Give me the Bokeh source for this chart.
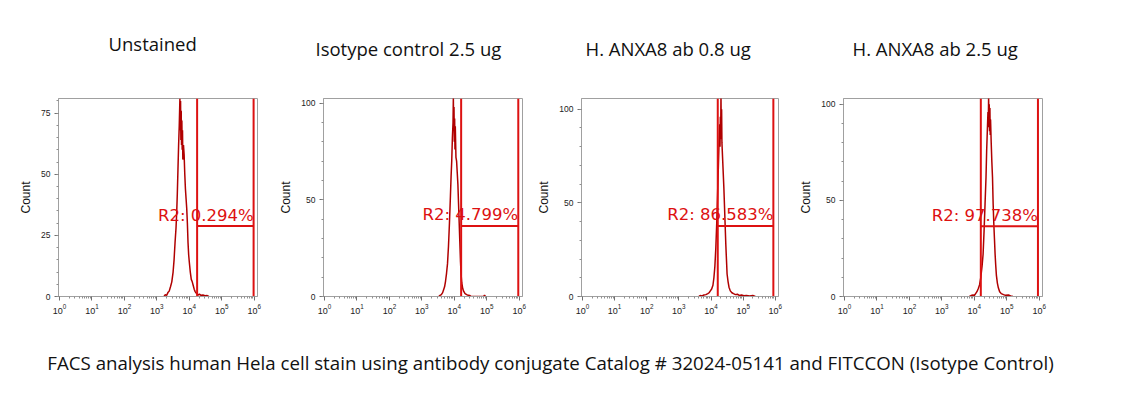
from bokeh.plotting import figure
from bokeh.layouts import row, column
from bokeh.models import Range1d, FixedTicker
from bokeh.core.properties import value
from bokeh.embed import file_html
from bokeh.resources import INLINE

# ---------------- data ----------------
titles = ["Unstained", "Isotype control 2.5 ug", "H. ANXA8 ab 0.8 ug", "H. ANXA8 ab 2.5 ug"]
r2_labels = ["R2: 0.294%", "R2: 4.799%", "R2: 86.583%", "R2: 97.738%"]
caption = ("FACS analysis human Hela cell stain using antibody conjugate Catalog # 32024-05141 "
           "and FITCCON (Isotype Control)")

# gate positions (log10 fluorescence) and gate bar height (count)
gate_left_log = [4.24, 4.21, 4.21, 4.20]
gate_right_log = [5.98, 5.97, 5.94, 5.96]
gate_y = [28.8, 36.5, 37.7, 36.6]

# y axis
y_top = [81, 102.4, 105.7, 103]
y_major = [[0, 25, 50, 75], [0, 50, 100], [0, 50, 100], [0, 50, 100]]
y_minor_step = [5, 10, 10, 10]

# histograms: log10 fluorescence, count
h1_log = [3.22, 3.26, 3.30, 3.34, 3.38, 3.42, 3.46, 3.50, 3.53, 3.56, 3.59, 3.61, 3.63, 3.65,
          3.67, 3.69, 3.71, 3.72, 3.73, 3.74, 3.75, 3.76, 3.77, 3.78, 3.79, 3.80, 3.82, 3.84,
          3.86, 3.88, 3.90, 3.92, 3.94, 3.96, 3.98, 4.00, 4.03, 4.06, 4.09, 4.12, 4.15, 4.18,
          4.21, 4.24, 4.27, 4.31, 4.36, 4.42, 4.48, 4.55, 4.60]
h1_cnt = [0, 0.8, 0.4, 1.6, 2.2, 4, 6, 10, 15, 22, 28, 34, 42, 52,
          62, 70, 81, 68, 80, 64, 76, 62, 72, 60, 68, 56, 62, 58,
          50, 44, 40, 36, 30, 22, 17, 14, 10, 7, 6, 4.5, 3, 2,
          1.4, 1, 0.6, 1, 0.5, 0.6, 0.3, 0.4, 0]

h2_log = [3.52, 3.56, 3.60, 3.64, 3.67, 3.70, 3.73, 3.76, 3.79, 3.82, 3.85, 3.88, 3.90, 3.92,
          3.94, 3.96, 3.97, 3.98, 3.99, 4.00, 4.01, 4.02, 4.03, 4.05, 4.07, 4.09, 4.11, 4.13,
          4.15, 4.17, 4.19, 4.21, 4.23, 4.26, 4.29, 4.33, 4.38, 4.43, 4.48, 4.52, 4.90, 4.93, 4.96]
h2_cnt = [0, 0.6, 1, 2, 3.5, 5, 8, 12, 17, 26, 38, 52, 62, 70,
          82, 90, 103, 86, 98, 80, 92, 76, 88, 72, 70, 64, 58, 48,
          38, 28, 18, 11, 7, 4, 2.6, 1.5, 1, 0.6, 0.5, 0, 0, 0.6, 0]

h3_log = [3.62, 3.66, 3.72, 3.78, 3.84, 3.90, 3.94, 3.98, 4.02, 4.06, 4.09, 4.12, 4.15, 4.18,
          4.21, 4.23, 4.25, 4.27, 4.28, 4.29, 4.30, 4.31, 4.32, 4.33, 4.34, 4.36, 4.38, 4.40,
          4.42, 4.44, 4.46, 4.48, 4.50, 4.53, 4.56, 4.60, 4.65, 4.70, 4.76, 4.82, 4.88, 4.95,
          5.02, 5.10, 5.20, 5.30, 5.38]
h3_cnt = [0, 0.5, 0.3, 0.8, 1, 1.5, 2, 3, 4, 6, 10, 16, 26, 40,
          58, 70, 82, 92, 80, 96, 84, 108, 88, 100, 82, 74, 66, 58,
          48, 38, 28, 20, 12, 8, 5, 3, 2, 1.5, 1, 1.2, 0.6, 0.8,
          0.4, 0.6, 0.3, 0.5, 0]

h4_log = [3.85, 3.90, 3.96, 4.00, 4.04, 4.08, 4.12, 4.16, 4.20, 4.24, 4.27, 4.30, 4.33, 4.36,
          4.38, 4.40, 4.42, 4.43, 4.44, 4.45, 4.46, 4.47, 4.48, 4.49, 4.50, 4.52, 4.54, 4.56,
          4.58, 4.60, 4.62, 4.64, 4.66, 4.68, 4.71, 4.74, 4.78, 4.83, 4.90, 4.96, 5.05, 5.12, 5.19]
h4_cnt = [0, 0.5, 0.8, 0.5, 1.5, 2.5, 4, 6, 10, 16, 22, 34, 48, 62,
          76, 86, 96, 88, 104, 90, 100, 86, 98, 84, 92, 80, 70, 62,
          48, 38, 30, 22, 16, 11, 7, 4.5, 2.5, 1.5, 1, 0.6, 0.8, 0.3, 0]

hist_log = [h1_log, h2_log, h3_log, h4_log]
hist_cnt = [h1_cnt, h2_cnt, h3_cnt, h4_cnt]

# ---------------- layout / style ----------------
W = 1123
header_h = 60
border_left = [58, 53, 51, 53]
border_right = [13, 8, 12, 89]
border_top = [36, 38, 38, 37]
frame_w = [199, 199, 197, 199]
frame_h = 198
fig_h = 265
title_x = [108, 315, 585, 852]      # left edge of each panel title (px)
title_base = [17, 12, 12, 12]       # baseline height in header (px from bottom)

GATE = "#dd1111"
HIST = "#b00000"
GRAY = "#a0a0a0"

# header with the four panel titles
head = figure(width=W, height=header_h, x_range=Range1d(0, W), y_range=Range1d(0, header_h),
              x_axis_location=None, y_axis_location=None, min_border=0,
              toolbar_location=None, output_backend="svg")
head.grid.visible = False
head.outline_line_color = None
head.text(x=title_x, y=title_base, text=titles, text_align="left", text_baseline="alphabetic",
          text_font=value("Open Sans"), text_font_size="18.5px", text_color="#111111")

figs = []
for i in range(4):
    p = figure(x_axis_type="log",
               x_range=Range1d(10 ** -0.03, 10 ** 6.1),
               y_range=Range1d(0, y_top[i]),
               frame_width=frame_w[i], frame_height=frame_h,
               min_border_left=border_left[i], min_border_right=border_right[i],
               min_border_top=border_top[i],
               min_border_bottom=fig_h - border_top[i] - frame_h,
               toolbar_location=None, output_backend="svg")
    p.xgrid.visible = False
    p.ygrid.visible = False
    p.outline_line_color = GRAY
    p.background_fill_color = "white"
    p.border_fill_color = "white"

    # axes
    xt = [10 ** k for k in range(7)]
    xm = [m * 10 ** k for k in range(6) for m in range(2, 10)]
    p.xaxis.ticker = FixedTicker(ticks=xt, minor_ticks=xm)
    p.yaxis.ticker = FixedTicker(ticks=y_major[i],
                                 minor_ticks=list(range(0, int(y_top[i]) + 1, y_minor_step[i])))
    for ax in (p.xaxis[0], p.yaxis[0]):
        ax.axis_line_color = GRAY
        ax.major_tick_line_color = "#707070"
        ax.minor_tick_line_color = "#909090"
        ax.major_tick_out = 4
        ax.major_tick_in = 0
        ax.minor_tick_out = 2
        ax.minor_tick_in = 0
        ax.major_label_text_font = "Liberation Sans"
        ax.major_label_text_color = "#222222"
    p.xaxis.major_label_text_font_size = "9px"
    p.xaxis.major_label_standoff = 3
    p.yaxis.major_label_text_font_size = "8.5px"
    p.yaxis.major_label_standoff = 4
    p.yaxis.axis_label = "Count"
    p.yaxis.axis_label_text_font = "Liberation Sans"
    p.yaxis.axis_label_text_font_size = "12px"
    p.yaxis.axis_label_text_font_style = "normal"
    p.yaxis.axis_label_text_color = "#111111"
    p.yaxis.axis_label_standoff = 5

    # histogram
    xs = [10 ** v for v in hist_log[i]]
    p.line(xs, hist_cnt[i], line_color=HIST, line_width=1.5)

    gl = 10 ** gate_left_log[i]
    gr = 10 ** gate_right_log[i]
    # region label
    p.text(x=[gr], y=[gate_y[i]], text=[r2_labels[i]], text_align="right",
           text_baseline="alphabetic", y_offset=-11,
           text_font=value("DejaVu Sans"), text_font_size="16.5px", text_color=GATE)
    # gate
    p.segment(x0=[gl, gr], y0=[0, 0], x1=[gl, gr], y1=[y_top[i], y_top[i]],
              line_color=GATE, line_width=2)
    p.segment(x0=[gl], y0=[gate_y[i]], x1=[gr], y1=[gate_y[i]],
              line_color=GATE, line_width=2)
    figs.append(p)

cap = figure(width=W, height=59, x_range=Range1d(0, W), y_range=Range1d(0, 59),
             x_axis_location=None, y_axis_location=None, min_border=0,
             toolbar_location=None, output_backend="svg")
cap.grid.visible = False
cap.outline_line_color = None
cap.text(x=[550], y=[22], text=[caption], text_align="center", text_baseline="alphabetic",
         text_font=value("Open Sans"), text_font_size="18.7px", text_color="#111111")

layout = column(head, row(*figs, spacing=0), cap, spacing=0)
open("out.html", "w").write(file_html(layout, INLINE))
